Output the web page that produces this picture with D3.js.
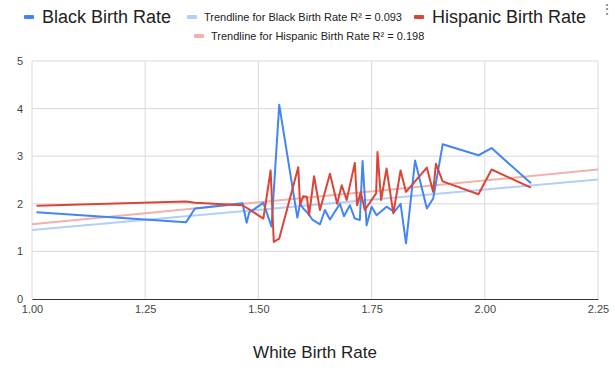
<!DOCTYPE html>
<html>
<head>
<meta charset="utf-8">
<script src="https://cdn.jsdelivr.net/npm/d3@7"></script>
<style>
  body { margin: 0; background: #fff; }
  text { font-family: "Liberation Sans", Arial, sans-serif; }
</style>
</head>
<body>
<script>
// Data

const blackX = [1.01, 1.34, 1.36, 1.465, 1.474, 1.48, 1.511, 1.529, 1.546, 1.586, 1.592, 1.599, 1.607, 1.620, 1.636, 1.647, 1.658, 1.680, 1.689, 1.702, 1.713, 1.724, 1.730, 1.739, 1.750, 1.761, 1.783, 1.800, 1.814, 1.826, 1.846, 1.872, 1.886, 1.907, 1.986, 2.015, 2.102];
const blackY = [1.82, 1.61, 1.90, 2.01, 1.60, 1.82, 2.02, 1.52, 4.08, 1.71, 2.00, 1.90, 1.83, 1.66, 1.57, 1.87, 1.67, 2.00, 1.74, 1.97, 1.69, 1.66, 2.90, 1.55, 1.94, 1.76, 1.94, 1.83, 2.00, 1.17, 2.91, 1.90, 2.11, 3.25, 3.02, 3.17, 2.43];

const hispX = [1.01, 1.34, 1.36, 1.465, 1.48, 1.511, 1.527, 1.534, 1.546, 1.588, 1.592, 1.599, 1.607, 1.612, 1.623, 1.636, 1.658, 1.674, 1.684, 1.695, 1.713, 1.718, 1.726, 1.735, 1.760, 1.763, 1.771, 1.783, 1.798, 1.814, 1.826, 1.872, 1.886, 1.892, 1.907, 1.986, 2.015, 2.102];
const hispY = [1.96, 2.05, 2.02, 1.97, 1.88, 1.69, 2.70, 1.20, 1.27, 2.77, 1.97, 2.16, 2.15, 1.76, 2.58, 1.87, 2.63, 2.00, 2.39, 2.08, 2.86, 1.97, 2.25, 1.87, 2.22, 3.09, 2.08, 2.74, 1.80, 2.70, 2.25, 2.76, 2.25, 2.84, 2.47, 2.20, 2.72, 2.34];

// trendline values at the two ends of the x range
const trendX = [1.00, 2.25];
const blackTrend = [1.45, 2.51];
const hispTrend = [1.57, 2.72];

const xTicks = [1.00, 1.25, 1.50, 1.75, 2.00, 2.25];
const yTicks = [0, 1, 2, 3, 4, 5];

const blackColor = "#4285f4";
const hispColor = "#db4437";
const blackTrendColor = "#b3cefa";
const hispTrendColor = "#f3b1ab";

const chartW = 615, chartH = 370;
const plotLeft = 32, plotRight = 598, plotTop = 61, plotBottom = 299;

const svg = d3.select("body")
    .append("svg")
    .attr("width", chartW)
    .attr("height", chartH);

let x = d3.scaleLinear().domain([1, 2.25]).range([plotLeft, plotRight]);
let y = d3.scaleLinear().domain([0, 5]).range([plotBottom, plotTop]);

// gridlines
svg.append("g")
    .selectAll("line")
    .data(yTicks.slice(1))
    .enter()
    .append("line")
    .attr("x1", plotLeft).attr("x2", plotRight)
    .attr("y1", d => y(d)).attr("y2", d => y(d))
    .attr("stroke", "#d9d9d9").attr("stroke-width", 1);

svg.append("g")
    .selectAll("line")
    .data(xTicks)
    .enter()
    .append("line")
    .attr("x1", d => x(d)).attr("x2", d => x(d))
    .attr("y1", plotTop).attr("y2", plotBottom)
    .attr("stroke", "#d9d9d9").attr("stroke-width", 1);

// y labels
svg.append("g")
    .selectAll("text")
    .data(yTicks)
    .enter()
    .append("text")
    .attr("x", 23)
    .attr("y", d => y(d) + 4)
    .attr("text-anchor", "end")
    .attr("font-size", 11)
    .attr("fill", "#444")
    .text(d => d);

// x axis
const xAxis = svg.append("g")
    .attr("transform", "translate(0," + plotBottom + ")")
    .call(d3.axisBottom(x).tickValues(xTicks).tickSize(0).tickPadding(6).tickFormat(d3.format(".2f")));
xAxis.select(".domain").attr("stroke", "#333").attr("stroke-width", 1.2);
xAxis.selectAll("text")
    .attr("font-size", 11)
    .attr("fill", "#444")
    .attr("font-family", "Liberation Sans, Arial, sans-serif");

// trendlines
const line = d3.line().x(d => x(d[0])).y(d => y(d[1]));

svg.append("path")
    .datum(d3.zip(trendX, blackTrend))
    .attr("d", line)
    .attr("fill", "none")
    .attr("stroke", blackTrendColor)
    .attr("stroke-width", 2);

svg.append("path")
    .datum(d3.zip(trendX, hispTrend))
    .attr("d", line)
    .attr("fill", "none")
    .attr("stroke", hispTrendColor)
    .attr("stroke-width", 2);

// series lines
svg.append("path")
    .datum(d3.zip(blackX, blackY))
    .attr("d", line)
    .attr("fill", "none")
    .attr("stroke", blackColor)
    .attr("stroke-width", 2)
    .attr("stroke-linejoin", "round");

svg.append("path")
    .datum(d3.zip(hispX, hispY))
    .attr("d", line)
    .attr("fill", "none")
    .attr("stroke", hispColor)
    .attr("stroke-width", 2)
    .attr("stroke-linejoin", "round");

// legend
const legend = [
    {label: "Black Birth Rate", color: blackColor, sx: 24, ty: 17, size: 18},
    {label: "Trendline for Black Birth Rate R\u00b2 = 0.093", color: blackTrendColor, sx: 187, ty: 17, size: 11},
    {label: "Hispanic Birth Rate", color: hispColor, sx: 414, ty: 17, size: 18},
    {label: "Trendline for Hispanic Birth Rate R\u00b2 = 0.198", color: hispTrendColor, sx: 194, ty: 36, size: 11}
];

legend.forEach(l => {
    svg.append("rect")
        .attr("x", l.sx).attr("y", l.ty - 2)
        .attr("width", 10).attr("height", 4)
        .attr("rx", 1)
        .attr("fill", l.color);
    svg.append("text")
        .attr("x", l.sx + (l.size > 12 ? 18 : 17))
        .attr("y", l.ty + l.size * 0.35)
        .attr("font-size", l.size)
        .attr("fill", "#222")
        .text(l.label);
});

// menu dots
svg.append("text")
    .attr("x", 607).attr("y", 14)
    .attr("text-anchor", "middle")
    .attr("font-size", 14)
    .attr("fill", "#777")
    .text("\u22ee");

// x axis title
svg.append("text")
    .attr("x", 315)
    .attr("y", 358)
    .attr("text-anchor", "middle")
    .attr("font-size", 17)
    .attr("fill", "#222")
    .text("White Birth Rate");
</script>
</body>
</html>
